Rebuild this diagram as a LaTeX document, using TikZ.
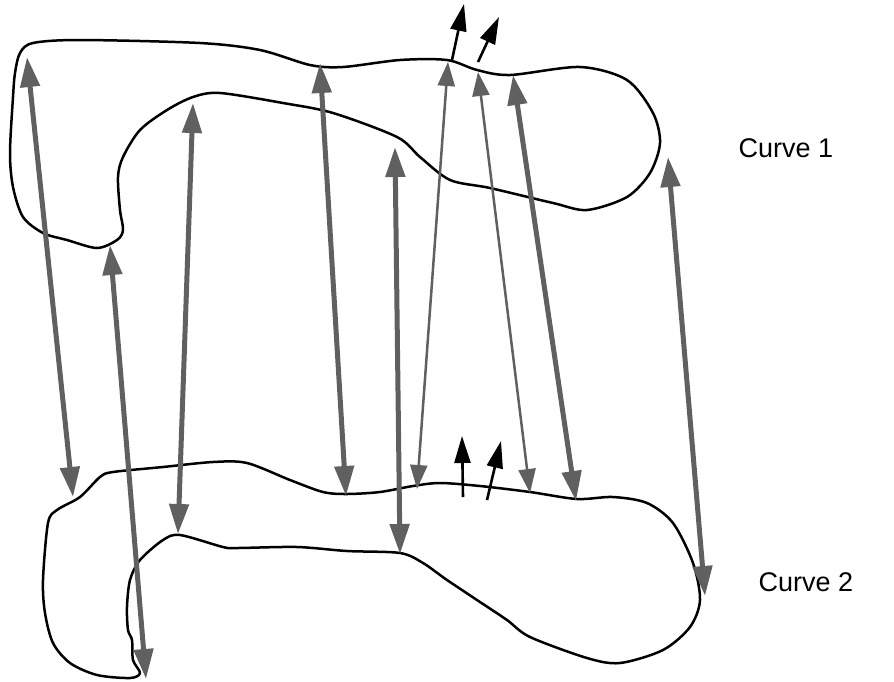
\documentclass[tikz,border=0pt]{standalone}
\usepackage{fontspec}
\setmainfont{Liberation Sans}
\usetikzlibrary{arrows.meta}
\definecolor{arrowgray}{HTML}{606060}
\tikzset{
  outline/.style={line width=2.5pt, line join=round},
  corr/.style={draw=arrowgray, line width=5pt,
    {Triangle[length=30pt,width=19pt]}-{Triangle[length=30pt,width=19pt]}},
  corrthin/.style={draw=arrowgray, line width=2.5pt,
    {Triangle[length=24pt,width=17pt]}-{Triangle[length=24pt,width=17pt]}},
  normal/.style={draw=black, line width=2.6pt, -{Triangle[length=27pt,width=16pt]}},
  label/.style={font=\fontsize{27}{31}\selectfont, inner sep=0pt}
}
\begin{document}
\begin{tikzpicture}[x=1pt,y=-1pt]
\useasboundingbox (0,0) rectangle (894,681);

% Curve 1
\draw[outline] plot[smooth cycle, tension=0.5] coordinates {
 (33,43) (80,40) (200,43) (260,50) (310,65) (343,67) (400,60) (447,60)
 (477,70) (510,75) (580,67) (627,80) (653,113) (660,143) (650,173)
 (627,197) (587,210) (553,203) (490,188) (450,180) (420,157) (397,137)
 (333,113) (283,103) (220,93) (193,97) (167,110) (140,130) (123,157)
 (118,177) (120,210) (123,230) (117,240) (97,248) (67,240) (43,233)
 (23,217) (13,187) (10,153) (13,97) (15,73) (20,53)};

% Curve 2
\draw[outline] plot[smooth cycle, tension=0.5] coordinates {
 (100,477) (113,472) (163,467) (213,462) (247,463) (290,480) (323,492)
 (347,494) (380,492) (413,486) (440,483) (480,486) (530,492) (577,499)
 (613,497) (647,503) (673,523) (693,563) (700,600) (690,627) (663,650)
 (620,663) (587,658) (530,637) (507,620) (480,602) (447,580) (423,563)
 (400,553) (347,551) (297,547) (237,548) (223,547) (180,535) (163,540)
 (140,560) (130,580) (127,607) (128,630) (132,640) (133,660) (140,673)
 (130,678) (97,675) (70,663) (53,643) (45,613) (43,580) (48,523)
 (57,510) (80,497)};

% end points of the correspondences
\coordinate (a1) at (27,57);   \coordinate (b1) at (73,497);
\coordinate (a2) at (110,245); \coordinate (b2) at (146,679);
\coordinate (a3) at (193,103); \coordinate (b3) at (178,534);
\coordinate (a4) at (320,63);  \coordinate (b4) at (346,496);
\coordinate (a5) at (395,147); \coordinate (b5) at (400,554);
\coordinate (a6) at (448,62);  \coordinate (b6) at (417,489);
\coordinate (a7) at (478,72);  \coordinate (b7) at (530,493);
\coordinate (a8) at (513,75);  \coordinate (b8) at (576,501);
\coordinate (a9) at (668,157); \coordinate (b9) at (705,596);

% normals
\coordinate (n1s) at (452,60);  \coordinate (n1e) at (464,4);
\coordinate (n2s) at (478,62);  \coordinate (n2e) at (499,17);
\coordinate (n3s) at (463,497); \coordinate (n3e) at (462,436);
\coordinate (n4s) at (487,500); \coordinate (n4e) at (501,441);

\draw[normal] (n1s) -- (n1e);
\draw[normal] (n2s) -- (n2e);
\draw[normal] (n3s) -- (n3e);
\draw[normal] (n4s) -- (n4e);

\draw[corr] (a1) -- (b1);
\draw[corr] (a2) -- (b2);
\draw[corr] (a3) -- (b3);
\draw[corr] (a4) -- (b4);
\draw[corr] (a5) -- (b5);
\draw[corrthin] (a6) -- (b6);
\draw[corrthin] (a7) -- (b7);
\draw[corr] (a8) -- (b8);
\draw[corr] (a9) -- (b9);

\node[label] (c1) at (786,148) {Curve 1};
\node[label] (c2) at (806,582) {Curve 2};
\end{tikzpicture}
\end{document}
